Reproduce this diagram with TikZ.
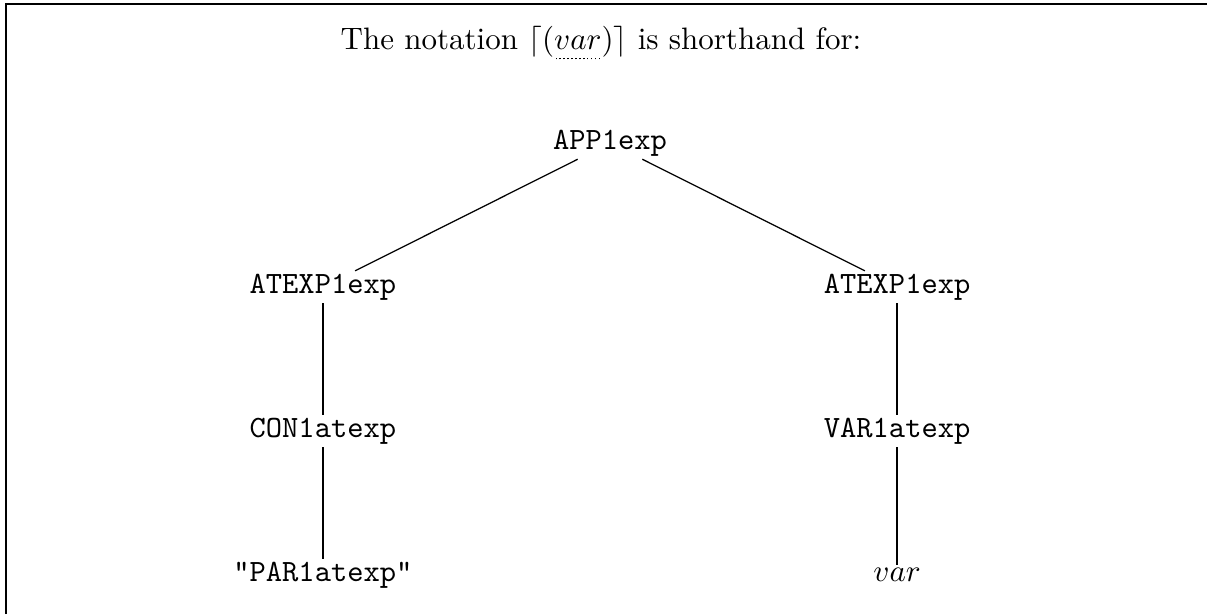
\documentclass[tikz,border=0pt]{standalone}
\usepackage{tikz}

\newcommand\dotunder[1]{\setbox0\hbox{#1}\leavevmode
  \rlap{\raisebox{-3pt}{\hbox to \wd0{\xleaders\hbox to 1.25pt{\hss\rule{0.45pt}{0.45pt}\hss}\hfill}}}\box0}

\begin{document}
\begin{tikzpicture}[x=0.01134cm, y=-0.01134cm, node distance=1.633cm,
                    main node/.style={font=\ttfamily,inner sep=0.8pt}]

  \useasboundingbox (0,0) rectangle (1207,614);
  \draw (6,614) -- (6,4) -- (1207,4);

  \node (0) at (601,43) {The notation $\lceil(\dotunder{$var$})\rceil$ is shorthand for:};

  \node[main node] (1) at (610,143) {APP1exp};
  \node[main node] (2) [below of=1, xshift=-3.255cm] {ATEXP1exp};
  \node[main node] (3) [below of=1, xshift=3.255cm] {ATEXP1exp};
  \node[main node] (4) [below of=2] {CON1atexp};
  \node[main node] (5) [below of=3] {VAR1atexp};
  \node[main node] (6) [below of=4] {"PAR1atexp"};
  \node[inner sep=0.8pt] (7) [below of=5] {$var$};

\path
    (1) edge (2)
    (1) edge (3)
    (2) edge (4)
    (3) edge (5)
    (4) edge (6)
    (5) edge (7);

\end{tikzpicture}
\end{document}
